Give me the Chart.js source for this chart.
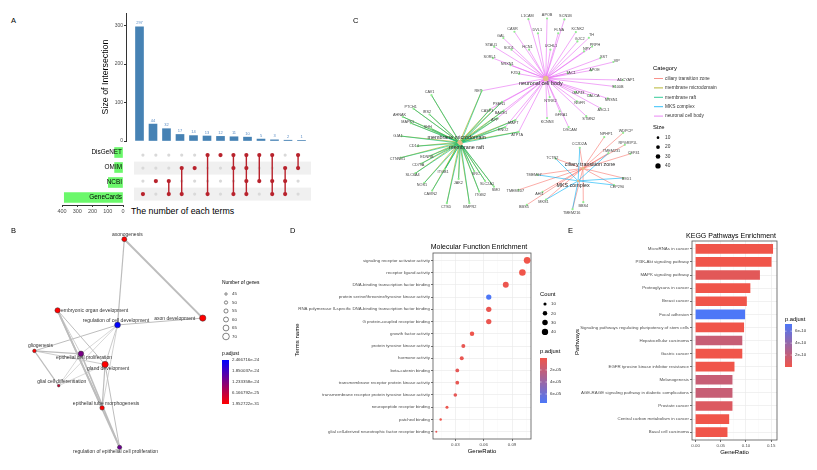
<!DOCTYPE html>
<html lang="en">
<head>
<meta charset="utf-8">
<title>Target genes: UpSet, GO networks and enrichment</title>
<script src="https://cdn.jsdelivr.net/npm/chart.js@4.4.1/dist/chart.umd.min.js"></script>
<style>
    html, body { margin: 0; padding: 0; background: #fff; }
    #page { position: relative; width: 817px; height: 470px; overflow: hidden; font-family: 'Liberation Sans', Arial, sans-serif; }
    .panel { position: absolute; }
    .txt { position: absolute; white-space: nowrap; line-height: 1; color: #000; }
    .vtxt { position: absolute; white-space: nowrap; line-height: 1; color: #000; transform: translate(-50%, -50%) rotate(-90deg); }
</style>
</head>
<body>
<div id="page">
    <canvas id="inter-chart" class="panel" width="215" height="140" style="left:100px; top:5px;"></canvas>
    <canvas id="matrix-chart" class="panel" width="189" height="60" style="left:126px; top:145px;"></canvas>
    <canvas id="set-chart" class="panel" width="71" height="72" style="left:55px; top:145px;"></canvas>
    <canvas id="go-chart" class="panel" width="270" height="245" style="left:0px; top:225px;"></canvas>
    <canvas id="cc-chart" class="panel" width="390" height="240" style="left:340px; top:0px;"></canvas>
    <canvas id="mf-chart" class="panel" width="290" height="215" style="left:285px; top:240px;"></canvas>
    <canvas id="kegg-chart" class="panel" width="257" height="226" style="left:560px; top:230px;"></canvas>

    <div class="txt" style="left:11px; top:17px; font-size:7.5px;">A</div>
    <div class="txt" style="left:11px; top:227px; font-size:7.5px;">B</div>
    <div class="txt" style="left:353px; top:17px; font-size:7.5px;">C</div>
    <div class="txt" style="left:290px; top:227px; font-size:7.5px;">D</div>
    <div class="txt" style="left:568px; top:227px; font-size:7.5px;">E</div>
    <div class="txt" style="left:131px; top:207px; font-size:8.8px;">The number of each terms</div>
    <div class="txt" style="left:409px; top:243px; width:140px; text-align:center; font-size:7px;">Molecular Function Enrichment</div>
    <div class="txt" style="left:661px; top:232px; width:140px; text-align:center; font-size:7px;">KEGG Pathways Enrichment</div>
    <div class="vtxt" style="left:297px; top:340px; font-size:6px;">Terms name</div>
    <div class="vtxt" style="left:577px; top:342px; font-size:6px;">Pathways</div>
</div>

<script>
// Panel A - UpSet of gene sources
const setNames = ['DisGeNET', 'OMIM', 'NCBI', 'GeneCards'];
const setSizes = [55, 55, 96, 385];
const setTicks = [0, 100, 200, 300, 400];
const interSizes = [297, 44, 32, 17, 14, 13, 12, 11, 10, 5, 3, 2, 1];
const interMembers = [[3], [2], [2, 3], [1, 3], [1], [0, 3], [0], [0, 1, 3], [0, 1, 2, 3], [0, 2], [0, 2, 3], [1, 2, 3], [0, 1]];
const interTicks = [0, 100, 200, 300];

// Panel B - GO term network
const goTerms = ['axonogenesis', 'axon development', 'regulation of cell development', 'embryonic organ development',
    'gliogenesis', 'epithelial cell proliferation', 'gland development', 'glial cell differentiation',
    'epithelial tube morphogenesis', 'regulation of epithelial cell proliferation'];
const goX = [5.33, 9.49, 4.97, 1.79, 0.56, 3.03, 4.31, 1.85, 4.15, 5.08];
const goY = [0.22, 3.78, 4.09, 3.43, 5.26, 5.39, 5.87, 6.83, 7.83, 9.61];
const goGenes = [60, 68, 65, 62, 52, 63, 68, 46, 57, 56];
const goPadj = [1e-30, 1.952722e-31, 2.466716e-24, 2e-30, 5e-27, 1.3e-24, 3e-30, 4.5e-25, 1e-29, 1.4e-24];
const goEdges = [[0, 1, 2.0], [0, 2, 1.2], [2, 1, 1.0], [2, 4, 1.0], [2, 5, 0.6], [2, 6, 0.8], [2, 7, 0.6], [2, 8, 0.7],
    [3, 6, 1.0], [3, 8, 1.6], [3, 9, 1.8], [3, 5, 0.7], [4, 5, 1.2], [4, 7, 1.2], [4, 6, 0.8], [5, 9, 1.6],
    [5, 7, 0.6], [6, 8, 1.2], [6, 9, 1.0], [7, 6, 0.6]];
const goSizeTicks = [45, 50, 55, 60, 65, 70];
const goPadjTicks = [2.466716e-24, 1.850037e-24, 1.233358e-24, 6.166792e-25, 1.952722e-31];
const goPadjLabels = ['2.466716e-24', '1.850037e-24', '1.233358e-24', '6.166792e-25', '1.952722e-31'];

// Panel C - cellular component gene network
const ccCategories = ['ciliary transition zone', 'membrane microdomain', 'membrane raft', 'MKS complex', 'neuronal cell body'];
const hubX = [24.40, 11.80, 11.90, 23.90, 20.60];
const hubY = [17.00, 14.30, 14.40, 18.30, 7.70];
const hubSize = [16, 30, 30, 8, 43];
const ccSizeTicks = [10, 20, 30, 40];
const geneNames = ['L1CAM', 'APOB', 'SCN1B', 'CASR', 'DVL1', 'FLNA', 'KCNK2', 'TH', 'GAL', 'GJC2',
    'PRPH', 'STAU1', 'SOD1', 'HCN1', 'UCHL1', 'NPY', 'SST', 'SORL1', 'NRXN1', 'VIP',
    'FZD3', 'TAC1', 'APOE', 'ADCYAP1', 'S100B', 'GAP43', 'CALCA', 'NRSN1', 'NTRK2', 'NGFR',
    'ASCL1', 'GFRA1', 'KCNN3', 'STMN2', 'DSCAM',
    'RET', 'PSEN1', 'CASP3', 'BACE1', 'APP', 'MAPT', 'ENO2', 'ATP7A',
    'CAV1', 'PTCH1', 'IRS2', 'AHNAK', 'MAPK1', 'SHH', 'GJA1', 'CD14', 'CTNNB1', 'EDNRB',
    'CD79A', 'SLC6A4', 'NOS1', 'CAVIN2', 'ITGB1', 'JAK2', 'SRC', 'SLC2A1', 'SMO', 'ITGB2', 'CTSD', 'BMPR2',
    'NPHP1', 'WDPCP', 'RPGRIP1L', 'CC2D2A', 'TMEM231', 'CEP41', 'TCTN2', 'B9D1', 'TMEM67', 'CEP290',
    'TMEM107', 'AHI1', 'MKS1', 'BBS4', 'BBS5', 'TMEM216'];
const geneX = [18.83, 20.73, 22.50, 17.40, 19.80, 21.87, 23.67, 25.00, 16.27, 23.83,
    25.33, 15.33, 17.10, 18.90, 21.07, 24.50, 26.17, 15.20, 17.00, 27.50,
    17.87, 22.83, 25.23, 28.43, 27.60, 23.60, 25.10, 26.93, 21.00, 23.77,
    26.17, 22.03, 20.73, 24.73, 22.93,
    14.07, 16.13, 14.93, 16.30, 15.67, 17.50, 16.47, 17.83,
    8.93, 7.10, 8.73, 6.00, 6.83, 8.87, 5.87, 7.50, 5.80, 8.80,
    7.90, 7.30, 8.20, 9.00, 10.30, 11.70, 13.30, 14.40, 15.30, 13.80, 10.50, 12.80,
    26.57, 28.50, 28.67, 24.07, 27.00, 29.23, 21.60, 28.50, 19.73, 27.57,
    17.83, 20.27, 20.63, 24.43, 18.67, 23.33];
const geneY = [1.57, 1.50, 1.60, 2.87, 3.03, 3.03, 2.90, 3.50, 3.53, 3.87,
    4.40, 4.43, 4.73, 4.73, 4.73, 4.90, 5.60, 5.60, 6.33, 6.00,
    7.23, 7.17, 6.87, 7.87, 8.53, 9.10, 9.43, 9.77, 9.63, 10.07,
    10.77, 11.10, 11.80, 11.60, 12.73,
    8.97, 10.13, 10.87, 11.03, 11.80, 12.00, 12.73, 13.23,
    9.43, 10.83, 11.43, 11.67, 12.33, 12.87, 13.67, 14.70, 15.90, 15.70,
    16.50, 17.50, 18.50, 19.30, 17.10, 18.10, 17.30, 18.30, 18.90, 19.40, 20.60, 20.60,
    13.77, 13.33, 14.57, 14.87, 15.43, 15.50, 16.00, 18.00, 17.67, 18.73,
    19.23, 19.43, 20.23, 20.50, 20.77, 21.23];
const neuronalGenes = ['L1CAM', 'APOB', 'SCN1B', 'CASR', 'DVL1', 'FLNA', 'KCNK2', 'TH', 'GAL', 'GJC2',
    'PRPH', 'STAU1', 'SOD1', 'HCN1', 'UCHL1', 'NPY', 'SST', 'SORL1', 'NRXN1', 'VIP',
    'FZD3', 'TAC1', 'APOE', 'ADCYAP1', 'S100B', 'GAP43', 'CALCA', 'NRSN1', 'NTRK2', 'NGFR',
    'ASCL1', 'GFRA1', 'KCNN3', 'STMN2', 'DSCAM',
    'RET', 'PSEN1', 'CASP3', 'BACE1', 'APP', 'MAPT', 'ENO2', 'ATP7A'];
const raftGenes = ['CAV1', 'PTCH1', 'IRS2', 'AHNAK', 'MAPK1', 'SHH', 'GJA1', 'CD14', 'CTNNB1', 'EDNRB',
    'CD79A', 'SLC6A4', 'NOS1', 'CAVIN2', 'ITGB1', 'JAK2', 'SRC', 'SLC2A1', 'SMO', 'ITGB2', 'CTSD', 'BMPR2',
    'RET', 'PSEN1', 'CASP3', 'BACE1', 'APP', 'MAPT', 'ENO2', 'ATP7A'];
const microdomainGenes = ['CAV1', 'PTCH1', 'IRS2', 'AHNAK', 'MAPK1', 'SHH', 'GJA1', 'CD14', 'CTNNB1', 'EDNRB',
    'CD79A', 'SLC6A4', 'NOS1', 'CAVIN2', 'ITGB1', 'JAK2', 'SRC', 'SLC2A1', 'SMO', 'ITGB2', 'CTSD', 'BMPR2',
    'RET', 'PSEN1', 'CASP3', 'BACE1', 'APP', 'MAPT', 'ENO2', 'ATP7A'];
const ciliaryGenes = ['NPHP1', 'WDPCP', 'RPGRIP1L', 'CC2D2A', 'TMEM231', 'CEP41', 'TCTN2', 'B9D1', 'TMEM67', 'CEP290',
    'TMEM107', 'AHI1', 'MKS1', 'BBS4', 'BBS5', 'TMEM216'];
const mksGenes = ['TCTN2', 'CC2D2A', 'B9D1', 'CEP290', 'MKS1', 'TMEM216', 'TMEM231', 'TMEM67'];

// Panel D - molecular function dot plot
const mfTerms = ['signaling receptor activator activity', 'receptor ligand activity',
    'DNA-binding transcription factor binding', 'protein serine/threonine/tyrosine kinase activity',
    'RNA polymerase II-specific DNA-binding transcription factor binding', 'G protein-coupled receptor binding',
    'growth factor activity', 'protein tyrosine kinase activity', 'hormone activity', 'beta-catenin binding',
    'transmembrane receptor protein kinase activity', 'transmembrane receptor protein tyrosine kinase activity',
    'neuropeptide receptor binding', 'patched binding', 'glial cell-derived neurotrophic factor receptor binding'];
const mfRatio = [0.106, 0.101, 0.0834, 0.0654, 0.0654, 0.0654, 0.0477, 0.0385, 0.0368, 0.0321, 0.0321, 0.0300, 0.0212, 0.0145, 0.0099];
const mfCount = [45, 43, 35, 28, 28, 28, 20, 16, 16, 14, 14, 13, 9, 6, 4];
const mfPadj = [1.2e-7, 1.5e-7, 2e-6, 7.5e-5, 3e-6, 2.5e-6, 1e-6, 4e-6, 3e-6, 5e-6, 4e-6, 5e-6, 2e-6, 1e-6, 5e-6];
const mfRatioTicks = [0.015, 0.03, 0.045, 0.06, 0.075, 0.09, 0.105];
const mfRatioLabels = ['', '0.03', '', '0.06', '', '0.09', ''];
const mfCountTicks = [10, 20, 30, 40];
const mfPadjTicks = [2e-5, 4e-5, 6e-5];
const mfPadjLabels = ['2e-05', '4e-05', '6e-05'];

// Panel E - KEGG bar plot
const keggTerms = ['MicroRNAs in cancer', 'PI3K-Akt signaling pathway', 'MAPK signaling pathway', 'Proteoglycans in cancer',
    'Breast cancer', 'Focal adhesion', 'Signaling pathways regulating pluripotency of stem cells',
    'Hepatocellular carcinoma', 'Gastric cancer', 'EGFR tyrosine kinase inhibitor resistance', 'Melanogenesis',
    'AGE-RAGE signaling pathway in diabetic complications', 'Prostate cancer', 'Central carbon metabolism in cancer',
    'Basal cell carcinoma'];
const keggRatio = [0.153, 0.150, 0.127, 0.108, 0.101, 0.0975, 0.0955, 0.092, 0.092, 0.0765, 0.0725, 0.0725, 0.0725, 0.066, 0.0626];
const keggPadj = [5e-13, 5e-13, 6e-11, 5e-13, 5e-13, 7.2e-10, 5e-13, 1.8e-10, 5e-13, 5e-13, 1.8e-10, 1.8e-10, 9e-11, 5e-13, 5e-13];
const keggRatioTicks = [0, 0.025, 0.05, 0.075, 0.1, 0.125, 0.15];
const keggRatioLabels = ['0.00', '', '0.05', '', '0.10', '', '0.15'];
const keggPadjTicks = [6e-10, 4e-10, 2e-10];
const keggPadjLabels = ['6e-10', '4e-10', '2e-10'];

// Colour-scale limits
const GO_PADJ_MIN = 1.952722e-31, GO_PADJ_MAX = 2.466716e-24;
const MF_PADJ_MIN = 0, MF_PADJ_MAX = 7.5e-5;
const KEGG_PADJ_MIN = 0, KEGG_PADJ_MAX = 7.2e-10;

// Theme
const FONT = "'Liberation Sans', Arial, sans-serif";
const BAR_BLUE = '#4682B4';
const VALUE_BLUE = '#5A8CC4';
const DOT_RED = '#B8222C';
const DOT_GREY = '#D9D9D9';
const STRIPE_GREY = '#F0F0F0';
const SET_GREEN = '#6BF86B';
const AXIS_DARK = '#333333';
const TICK_GREY = '#4D4D4D';
const GRID_MAJOR = '#EBEBEB';
const GRID_MINOR = '#F5F5F5';
const EDGE_GREY = '#BDBDBD';
const GENE_GREEN = '#90EE90';
const HUB_TAN = '#E3BF8B';
const CC_COLORS = ['#F8766D', '#A3A500', '#00BF7D', '#00B0F6', '#E76BF3'];
const ENRICH_RED = [240, 85, 74];
const ENRICH_BLUE = [77, 119, 247];
const NET_RED = [255, 0, 0];
const NET_BLUE = [0, 0, 255];

function font(size) { return `${size}px ${FONT}`; }

function mixColor(low, high, t) {
    t = Math.max(0, Math.min(1, t));
    const c = low.map((v, k) => Math.round(v + (high[k] - v) * t));
    return `rgb(${c[0]},${c[1]},${c[2]})`;
}

function goRadius(n) { return 1.2 + (n - 45) * 0.085; }
function ccRadius(n) { return 0.42 * Math.sqrt(n); }
function countRadius(n) { return 0.5 * Math.sqrt(n); }

// Shared plugins
const panelBorder = {
    id: 'panelBorder',
    afterDatasetsDraw(chart) {
        const { ctx, chartArea: a } = chart;
        ctx.save();
        ctx.strokeStyle = '#555';
        ctx.lineWidth = 0.8;
        ctx.strokeRect(a.left, a.top, a.right - a.left, a.bottom - a.top);
        ctx.restore();
    }
};

function ratioAxis(min, max, ticks, labels, height) {
    return {
        type: 'linear', min, max, offset: false,
        afterBuildTicks: axis => { axis.ticks = ticks.map(v => ({ value: v })); },
        afterFit: axis => { axis.height = height; },
        ticks: { callback: (v, i) => labels[i], font: { size: 4.4 }, color: TICK_GREY, padding: 1, maxRotation: 0, autoSkip: false },
        grid: {
            offset: false,
            color: c => labels[c.index] ? GRID_MAJOR : GRID_MINOR,
            lineWidth: c => labels[c.index] ? 0.7 : 0.4,
            tickColor: c => labels[c.index] ? AXIS_DARK : 'rgba(0,0,0,0)',
            tickLength: 2
        },
        border: { display: false },
        title: { display: true, text: 'GeneRatio', font: { size: 6 }, color: '#000', padding: { top: 1, bottom: 0 } }
    };
}

function termAxis(labels, width) {
    return {
        type: 'linear', min: -0.6, max: labels.length - 0.4, reverse: true, offset: false,
        afterBuildTicks: axis => { axis.ticks = labels.map((t, i) => ({ value: i })); },
        afterFit: axis => { axis.width = width; },
        ticks: { callback: (v, i) => labels[i], font: { size: 4.4 }, color: TICK_GREY, padding: 1, autoSkip: false },
        grid: { offset: false, color: GRID_MAJOR, lineWidth: 0.7, tickColor: AXIS_DARK, tickLength: 2 },
        border: { display: false }
    };
}

// A: intersection sizes
function renderIntersections() {
    const valueLabels = {
        id: 'valueLabels',
        afterDatasetsDraw(chart) {
            const { ctx } = chart;
            ctx.save();
            ctx.font = font(4);
            ctx.fillStyle = VALUE_BLUE;
            ctx.textAlign = 'center';
            ctx.textBaseline = 'bottom';
            chart.getDatasetMeta(0).data.forEach((bar, i) => ctx.fillText(interSizes[i], bar.x, bar.y - 1.5));
            ctx.restore();
        }
    };

    new Chart(document.getElementById('inter-chart'), {
        type: 'bar',
        data: {
            datasets: [{
                data: interSizes.map((v, i) => ({ x: i, y: v })),
                backgroundColor: BAR_BLUE,
                barThickness: 8
            }]
        },
        options: {
            responsive: false,
            layout: { padding: { top: 8, bottom: 1, left: 0, right: 0 } },
            scales: {
                x: { type: 'linear', min: -1, max: 13, offset: false, display: false },
                y: {
                    min: 0, max: 333,
                    afterBuildTicks: axis => { axis.ticks = interTicks.map(v => ({ value: v })); },
                    afterFit: axis => { axis.width = 26; },
                    ticks: { font: { size: 5 }, color: TICK_GREY, padding: 1 },
                    grid: { drawOnChartArea: false, tickLength: 2, color: AXIS_DARK },
                    border: { color: AXIS_DARK },
                    title: { display: true, text: 'Size of Intersection', color: '#000', font: { size: 8.8 }, padding: { top: 0, bottom: 1 } }
                }
            }
        },
        plugins: [valueLabels]
    });
}

// A: membership matrix
function renderMatrix() {
    const greyPts = [];
    const redPts = [];
    const links = [];
    interMembers.forEach((members, col) => {
        setNames.forEach((name, row) => {
            (members.includes(row) ? redPts : greyPts).push({ x: col, y: row });
        });
        if (members.length > 1) {
            links.push({
                type: 'line',
                data: [{ x: col, y: Math.min(...members) }, { x: col, y: Math.max(...members) }],
                borderColor: DOT_RED,
                borderWidth: 1.4,
                pointRadius: 0
            });
        }
    });

    const stripes = {
        id: 'stripes',
        beforeDatasetsDraw(chart) {
            const { ctx, chartArea: a, scales: { y } } = chart;
            ctx.save();
            ctx.fillStyle = STRIPE_GREY;
            [1, 3].forEach(r => {
                const top = y.getPixelForValue(r - 0.5);
                const bottom = y.getPixelForValue(r + 0.5);
                ctx.fillRect(a.left + 4, top, a.right - a.left - 4, bottom - top);
            });
            ctx.restore();
        }
    };

    new Chart(document.getElementById('matrix-chart'), {
        type: 'scatter',
        data: {
            datasets: [
                { data: redPts, pointRadius: 2.1, pointBackgroundColor: DOT_RED, pointBorderWidth: 0 },
                ...links,
                { data: greyPts, pointRadius: 1.6, pointBackgroundColor: DOT_GREY, pointBorderWidth: 0 }
            ]
        },
        options: {
            responsive: false,
            layout: { padding: 0 },
            scales: {
                x: { type: 'linear', min: -1, max: 13, display: false },
                y: { type: 'linear', min: -0.47, max: 3.53, reverse: true, display: false }
            }
        },
        plugins: [stripes]
    });
}

// A: set sizes
function renderSetSizes() {
    const setLabels = {
        id: 'setLabels',
        afterDatasetsDraw(chart) {
            const { ctx, chartArea, scales: { y } } = chart;
            ctx.save();
            ctx.font = font(6.4);
            ctx.fillStyle = '#000';
            ctx.textAlign = 'right';
            ctx.textBaseline = 'middle';
            setNames.forEach((name, i) => ctx.fillText(name, chartArea.right - 1, y.getPixelForValue(i)));
            ctx.restore();
        }
    };

    new Chart(document.getElementById('set-chart'), {
        type: 'bar',
        data: { labels: setNames, datasets: [{ data: setSizes, backgroundColor: SET_GREEN, barThickness: 10 }] },
        options: {
            indexAxis: 'y',
            responsive: false,
            layout: { padding: { left: 7, right: 3, top: 0, bottom: 0 } },
            scales: {
                x: {
                    min: 0, max: 400, reverse: true,
                    afterBuildTicks: axis => { axis.ticks = setTicks.map(v => ({ value: v })); },
                    afterFit: axis => { axis.height = 12; },
                    ticks: { font: { size: 5.5 }, color: TICK_GREY, padding: 1, maxRotation: 0 },
                    grid: { drawOnChartArea: false, tickLength: 2, color: AXIS_DARK },
                    border: { color: AXIS_DARK }
                },
                y: { display: false }
            }
        },
        plugins: [setLabels]
    });
}

// B: GO term network
function renderGoNetwork() {
    const goLabelOffset = [[3, -5], [-28, 1], [-1.5, -4.5], [37, 0], [6, -5], [3, 4], [3, 4], [3, -4], [4, -4], [-4, 4]];

    const labels = {
        id: 'goLabels',
        afterDatasetsDraw(chart) {
            const { ctx } = chart;
            ctx.save();
            ctx.font = font(5);
            ctx.fillStyle = '#333';
            ctx.textAlign = 'center';
            ctx.textBaseline = 'middle';
            chart.getDatasetMeta(0).data.forEach((pt, i) => {
                ctx.fillText(goTerms[i], pt.x + goLabelOffset[i][0], pt.y + goLabelOffset[i][1]);
            });
            ctx.restore();
        }
    };

    const legend = {
        id: 'goLegend',
        afterDraw(chart) {
            const { ctx } = chart;
            ctx.save();
            ctx.textAlign = 'left';
            ctx.textBaseline = 'middle';
            ctx.fillStyle = '#000';
            ctx.font = font(4.9);
            ctx.fillText('Number of genes', 222, 58);
            goSizeTicks.forEach((n, i) => {
                const y = 69 + i * 8.5;
                ctx.beginPath();
                ctx.arc(226, y, goRadius(n), 0, Math.PI * 2);
                ctx.fillStyle = '#fff';
                ctx.fill();
                ctx.strokeStyle = '#333';
                ctx.lineWidth = 0.6;
                ctx.stroke();
                ctx.fillStyle = '#333';
                ctx.font = font(4.4);
                ctx.fillText(n, 232, y);
            });
            ctx.fillStyle = '#000';
            ctx.font = font(4.9);
            ctx.fillText('p.adjust', 222, 129);
            const g = ctx.createLinearGradient(0, 135, 0, 179);
            g.addColorStop(0, mixColor(NET_RED, NET_BLUE, 1));
            g.addColorStop(1, mixColor(NET_RED, NET_BLUE, 0));
            ctx.fillStyle = g;
            ctx.fillRect(222, 135, 7, 44);
            ctx.fillStyle = '#333';
            ctx.font = font(4.4);
            goPadjTicks.forEach((p, i) => {
                const y = 179 - (p - GO_PADJ_MIN) / (GO_PADJ_MAX - GO_PADJ_MIN) * 44;
                ctx.fillText(goPadjLabels[i], 232, y);
            });
            ctx.restore();
        }
    };

    const edgeSets = goEdges.map(([a, b, w]) => ({
        type: 'line',
        data: [{ x: goX[a], y: goY[a] }, { x: goX[b], y: goY[b] }],
        borderColor: EDGE_GREY,
        borderWidth: w,
        pointRadius: 0
    }));

    new Chart(document.getElementById('go-chart'), {
        type: 'scatter',
        data: {
            datasets: [{
                data: goTerms.map((t, i) => ({ x: goX[i], y: goY[i] })),
                pointRadius: goGenes.map(goRadius),
                pointBackgroundColor: goPadj.map(p => mixColor(NET_RED, NET_BLUE, (p - GO_PADJ_MIN) / (GO_PADJ_MAX - GO_PADJ_MIN))),
                pointBorderColor: '#333',
                pointBorderWidth: 0.5
            }, ...edgeSets]
        },
        options: {
            responsive: false,
            layout: { padding: 0 },
            scales: {
                x: { type: 'linear', min: -1.026, max: 12.82, display: false },
                y: { type: 'linear', min: -0.217, max: 10.43, reverse: true, display: false }
            }
        },
        plugins: [labels, legend]
    });
}

// C: cellular component network
function renderCellularNetwork() {
    const ccGeneLists = [ciliaryGenes, microdomainGenes, raftGenes, mksGenes, neuronalGenes];
    const hubLabelOffset = [[7, -4], [-3, -5], [6, 4], [-5, 5], [-5, 5]];
    const genePos = name => {
        const i = geneNames.indexOf(name);
        return { x: geneX[i], y: geneY[i] };
    };
    const anchorHub = name => neuronalGenes.includes(name) ? 4 : (raftGenes.includes(name) ? 2 : 0);

    // one line dataset per category, gaps split the spokes
    const edgeSet = k => {
        const hub = { x: hubX[k], y: hubY[k] };
        const data = [];
        ccGeneLists[k].forEach(g => data.push(hub, genePos(g), { x: hub.x, y: null }));
        return { type: 'line', data, borderColor: CC_COLORS[k], borderWidth: 0.6, pointRadius: 0, spanGaps: false };
    };

    const labels = {
        id: 'ccLabels',
        afterDatasetsDraw(chart) {
            const { ctx, scales: { x, y } } = chart;
            ctx.save();
            ctx.textAlign = 'center';
            ctx.textBaseline = 'middle';
            ctx.fillStyle = '#444';
            ctx.font = font(3.8);
            geneNames.forEach((g, i) => {
                const k = anchorHub(g);
                const hx = x.getPixelForValue(hubX[k]);
                const hy = y.getPixelForValue(hubY[k]);
                const gx = x.getPixelForValue(geneX[i]);
                const gy = y.getPixelForValue(geneY[i]);
                const d = Math.hypot(gx - hx, gy - hy) || 1;
                ctx.fillText(g, gx + (gx - hx) / d * 3.5, gy + (gy - hy) / d * 3.5);
            });
            ctx.fillStyle = '#222';
            ctx.font = font(5.4);
            ccCategories.forEach((c, k) => {
                ctx.fillText(c, x.getPixelForValue(hubX[k]) + hubLabelOffset[k][0], y.getPixelForValue(hubY[k]) + hubLabelOffset[k][1]);
            });
            ctx.restore();
        }
    };

    const legend = {
        id: 'ccLegend',
        afterDraw(chart) {
            const { ctx } = chart;
            ctx.save();
            ctx.textAlign = 'left';
            ctx.textBaseline = 'middle';
            ctx.fillStyle = '#000';
            ctx.font = font(5.9);
            ctx.fillText('Category', 313, 68);
            ccCategories.forEach((cat, k) => {
                const y = 78.5 + k * 9.4;
                ctx.strokeStyle = CC_COLORS[k];
                ctx.lineWidth = 0.8;
                ctx.beginPath();
                ctx.moveTo(314, y);
                ctx.lineTo(323, y);
                ctx.stroke();
                ctx.fillStyle = '#333';
                ctx.font = font(4.8);
                ctx.fillText(cat, 325, y);
            });
            ctx.fillStyle = '#000';
            ctx.font = font(5.9);
            ctx.fillText('Size', 313, 127);
            ccSizeTicks.forEach((n, i) => {
                const y = 137.7 + i * 9.4;
                ctx.fillStyle = '#000';
                ctx.beginPath();
                ctx.arc(318, y, ccRadius(n), 0, Math.PI * 2);
                ctx.fill();
                ctx.fillStyle = '#333';
                ctx.font = font(4.8);
                ctx.fillText(n, 325, y);
            });
            ctx.restore();
        }
    };

    new Chart(document.getElementById('cc-chart'), {
        type: 'scatter',
        data: {
            datasets: [
                {
                    data: ccCategories.map((c, k) => ({ x: hubX[k], y: hubY[k] })),
                    pointRadius: hubSize.map(ccRadius),
                    pointBackgroundColor: HUB_TAN,
                    pointBorderWidth: 0
                },
                {
                    data: geneNames.map((g, i) => ({ x: geneX[i], y: geneY[i] })),
                    pointRadius: 1.1,
                    pointBackgroundColor: GENE_GREEN,
                    pointBorderWidth: 0
                },
                edgeSet(3), edgeSet(2), edgeSet(1), edgeSet(0), edgeSet(4)
            ]
        },
        options: {
            responsive: false,
            layout: { padding: 0 },
            scales: {
                x: { type: 'linear', min: 0, max: 39, display: false },
                y: { type: 'linear', min: 0, max: 24, reverse: true, display: false }
            }
        },
        plugins: [labels, legend]
    });
}

// D: molecular function dot plot
function renderMolecularFunction() {
    const legend = {
        id: 'mfLegend',
        afterDraw(chart) {
            const { ctx } = chart;
            ctx.save();
            ctx.textAlign = 'left';
            ctx.textBaseline = 'middle';
            ctx.fillStyle = '#000';
            ctx.font = font(5.8);
            ctx.fillText('Count', 255, 54);
            mfCountTicks.forEach((n, i) => {
                const y = 64 + i * 9.3;
                ctx.fillStyle = '#000';
                ctx.beginPath();
                ctx.arc(260, y, countRadius(n), 0, Math.PI * 2);
                ctx.fill();
                ctx.fillStyle = '#333';
                ctx.font = font(4.4);
                ctx.fillText(n, 266, y);
            });
            ctx.fillStyle = '#000';
            ctx.font = font(5.8);
            ctx.fillText('p.adjust', 255, 111);
            const g = ctx.createLinearGradient(0, 118, 0, 163);
            g.addColorStop(0, mixColor(ENRICH_RED, ENRICH_BLUE, 0));
            g.addColorStop(1, mixColor(ENRICH_RED, ENRICH_BLUE, 1));
            ctx.fillStyle = g;
            ctx.fillRect(255, 118, 7, 45);
            mfPadjTicks.forEach((p, i) => {
                const y = 118 + (p - MF_PADJ_MIN) / (MF_PADJ_MAX - MF_PADJ_MIN) * 45;
                ctx.strokeStyle = '#fff';
                ctx.lineWidth = 0.5;
                ctx.beginPath();
                ctx.moveTo(255, y); ctx.lineTo(256.5, y);
                ctx.moveTo(260.5, y); ctx.lineTo(262, y);
                ctx.stroke();
                ctx.fillStyle = '#333';
                ctx.font = font(4.4);
                ctx.fillText(mfPadjLabels[i], 265, y);
            });
            ctx.restore();
        }
    };

    new Chart(document.getElementById('mf-chart'), {
        type: 'bubble',
        data: {
            datasets: [{
                data: mfTerms.map((t, i) => ({ x: mfRatio[i], y: i, r: countRadius(mfCount[i]) })),
                backgroundColor: mfPadj.map(p => mixColor(ENRICH_RED, ENRICH_BLUE, (p - MF_PADJ_MIN) / (MF_PADJ_MAX - MF_PADJ_MIN))),
                borderWidth: 0
            }]
        },
        options: {
            responsive: false,
            layout: { padding: { top: 13, right: 44, left: 0, bottom: 0 } },
            scales: {
                x: ratioAxis(0.0064, 0.1101, mfRatioTicks, mfRatioLabels, 16),
                y: termAxis(mfTerms, 148)
            }
        },
        plugins: [panelBorder, legend]
    });
}

// E: KEGG bar plot
function renderKegg() {
    const legend = {
        id: 'keggLegend',
        afterDraw(chart) {
            const { ctx } = chart;
            ctx.save();
            ctx.textAlign = 'left';
            ctx.textBaseline = 'middle';
            ctx.fillStyle = '#000';
            ctx.font = font(5.8);
            ctx.fillText('p.adjust', 225, 89);
            const g = ctx.createLinearGradient(0, 94, 0, 137);
            g.addColorStop(0, mixColor(ENRICH_RED, ENRICH_BLUE, 1));
            g.addColorStop(1, mixColor(ENRICH_RED, ENRICH_BLUE, 0));
            ctx.fillStyle = g;
            ctx.fillRect(225, 94, 7, 43);
            keggPadjTicks.forEach((p, i) => {
                const y = 137 - (p - KEGG_PADJ_MIN) / (KEGG_PADJ_MAX - KEGG_PADJ_MIN) * 43;
                ctx.strokeStyle = '#fff';
                ctx.lineWidth = 0.5;
                ctx.beginPath();
                ctx.moveTo(225, y); ctx.lineTo(226.5, y);
                ctx.moveTo(230.5, y); ctx.lineTo(232, y);
                ctx.stroke();
                ctx.fillStyle = '#333';
                ctx.font = font(4.4);
                ctx.fillText(keggPadjLabels[i], 235, y);
            });
            ctx.restore();
        }
    };

    new Chart(document.getElementById('kegg-chart'), {
        type: 'bar',
        data: {
            datasets: [{
                data: keggTerms.map((t, i) => ({ x: keggRatio[i], y: i })),
                backgroundColor: keggPadj.map(p => mixColor(ENRICH_RED, ENRICH_BLUE, (p - KEGG_PADJ_MIN) / (KEGG_PADJ_MAX - KEGG_PADJ_MIN))),
                borderWidth: 0,
                barThickness: 9
            }]
        },
        options: {
            indexAxis: 'y',
            responsive: false,
            layout: { padding: { top: 11, right: 40, left: 0, bottom: 0 } },
            scales: {
                x: ratioAxis(-0.0071, 0.1615, keggRatioTicks, keggRatioLabels, 16),
                y: termAxis(keggTerms, 132)
            }
        },
        plugins: [panelBorder, legend]
    });
}

function init() {
    Chart.defaults.font.family = FONT;
    Chart.defaults.color = TICK_GREY;
    Chart.defaults.animation = false;
    Chart.defaults.events = [];
    Chart.defaults.plugins.legend.display = false;
    Chart.defaults.plugins.tooltip.enabled = false;

    renderIntersections();
    renderMatrix();
    renderSetSizes();
    renderGoNetwork();
    renderCellularNetwork();
    renderMolecularFunction();
    renderKegg();
}

document.addEventListener('DOMContentLoaded', init);
</script>
</body>
</html>
